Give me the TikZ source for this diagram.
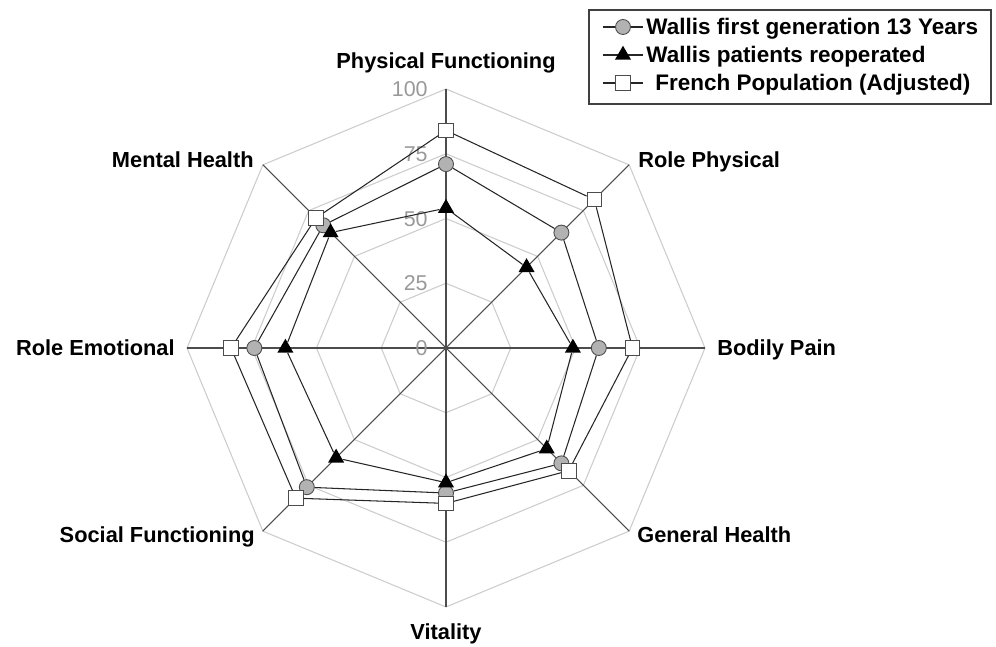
\documentclass[tikz,border=0pt]{standalone}
\usepackage{fontspec}
\setmainfont{Liberation Sans}
\usetikzlibrary{shapes.geometric}
\def\R{5.18}

\begin{document}
\begin{tikzpicture}[gridLine/.style={draw=black!20, line width=0.6pt},
		axisLine/.style={draw=black!70, line width=0.6pt},
		dataLine/.style={draw=black!85, line width=0.6pt},
		roundMark/.style={circle, draw=black!70, fill=black!30, line width=0.5pt, minimum size=3mm, inner sep=0pt},
		boxMark/.style={rectangle, draw=black!70, fill=white, line width=0.5pt, minimum size=2.9mm, inner sep=0pt},
		triMark/.style={regular polygon, regular polygon sides=3, fill=black, minimum size=3.7mm, inner sep=0pt},
		axisLabel/.style={font=\bfseries\fontsize{12.4}{14}\selectfont, inner sep=0pt, text height=3.1mm, text depth=0pt},
		scaleLabel/.style={font=\fontsize{12.2}{14}\selectfont, text=black!40, anchor=east, inner sep=0pt, text height=3.1mm, text depth=0pt},
		legendText/.style={font=\bfseries\fontsize{12.8}{14}\selectfont, anchor=west, inner sep=0pt, text height=3.2mm, text depth=0pt}]
	\useasboundingbox (-8.92,-5.98) rectangle (11.0,6.96);
	% grid
	\foreach \level in {25,50,75,100}
		\draw[gridLine] (90:{\level*\R/100}) \foreach \k in {1,...,7} {-- ({90-45*\k}:{\level*\R/100})} -- cycle;
	% axes
	\foreach \k in {0,...,7}
		\coordinate (tip\k) at ({90-45*\k}:\R);
	\foreach \k in {0,...,3} {
		\pgfmathtruncatemacro\j{\k+4}
		\draw[axisLine] (tip\k) -- (tip\j);
	}
	\foreach \level in {0,25,50,75,100}
		\node[scaleLabel] (scale\level) at (-0.36,{\level*\R/100}) {\level};
	% axis names
	\node[axisLabel] (pf) at (0,5.75) {Physical Functioning};
	\node[axisLabel, anchor=west] (rp) at (3.84,3.76) {Role Physical};
	\node[axisLabel, anchor=west] (bp) at (5.42,0) {Bodily Pain};
	\node[axisLabel, anchor=west] (gh) at (3.82,-3.74) {General Health};
	\node[axisLabel] (vt) at (0,-5.68) {Vitality};
	\node[axisLabel, anchor=east] (sf) at (-3.82,-3.74) {Social Functioning};
	\node[axisLabel, anchor=east] (re) at (-5.42,0) {Role Emotional};
	\node[axisLabel, anchor=east] (mh) at (-3.84,3.76) {Mental Health};
	% Wallis first generation
	\foreach \v [count=\i from 0] in {71,63,59,63,56,76,74,67}
		\node[roundMark] (first\i) at ({90-45*\i}:{\v*\R/100}) {};
	\foreach \i [evaluate=\i as \j using {int(mod(\i+1,8))}] in {0,...,7}
		\draw[dataLine] (first\i) -- (first\j);
	% French population
	\foreach \v [count=\i from 0] in {84,81,72,67,60,82,83,71}
		\node[boxMark] (french\i) at ({90-45*\i}:{\v*\R/100}) {};
	\foreach \i [evaluate=\i as \j using {int(mod(\i+1,8))}] in {0,...,7}
		\draw[dataLine] (french\i) -- (french\j);
	% reoperated
	\foreach \v [count=\i from 0] in {54,44,49,55,52,60,62,63}
		\node[triMark] (redo\i) at ({90-45*\i}:{\v*\R/100}) {};
	\foreach \i [evaluate=\i as \j using {int(mod(\i+1,8))}] in {0,...,7}
		\draw[dataLine] (redo\i) -- (redo\j);
	% legend
	\node[draw=black!75, line width=0.7pt, minimum width=8.04cm, minimum height=1.88cm, inner sep=0pt] (legend) at (6.88,5.82) {};
	\coordinate (keyFirstL) at (3.14,6.42);
	\coordinate (keyFirstR) at (3.94,6.42);
	\draw[dataLine] (keyFirstL) -- (keyFirstR);
	\node[roundMark] (keyFirst) at (3.54,6.42) {};
	\node[legendText] (textFirst) at (4.0,6.42) {Wallis first generation 13 Years};
	\coordinate (keyRedoL) at (3.14,5.86);
	\coordinate (keyRedoR) at (3.94,5.86);
	\draw[dataLine] (keyRedoL) -- (keyRedoR);
	\node[triMark] (keyRedo) at (3.54,5.86) {};
	\node[legendText] (textRedo) at (4.0,5.86) {Wallis patients reoperated};
	\coordinate (keyFrenchL) at (3.14,5.30);
	\coordinate (keyFrenchR) at (3.94,5.30);
	\draw[dataLine] (keyFrenchL) -- (keyFrenchR);
	\node[boxMark] (keyFrench) at (3.54,5.30) {};
	\node[legendText] (textFrench) at (4.18,5.30) {French Population (Adjusted)};
\end{tikzpicture}
\end{document}
